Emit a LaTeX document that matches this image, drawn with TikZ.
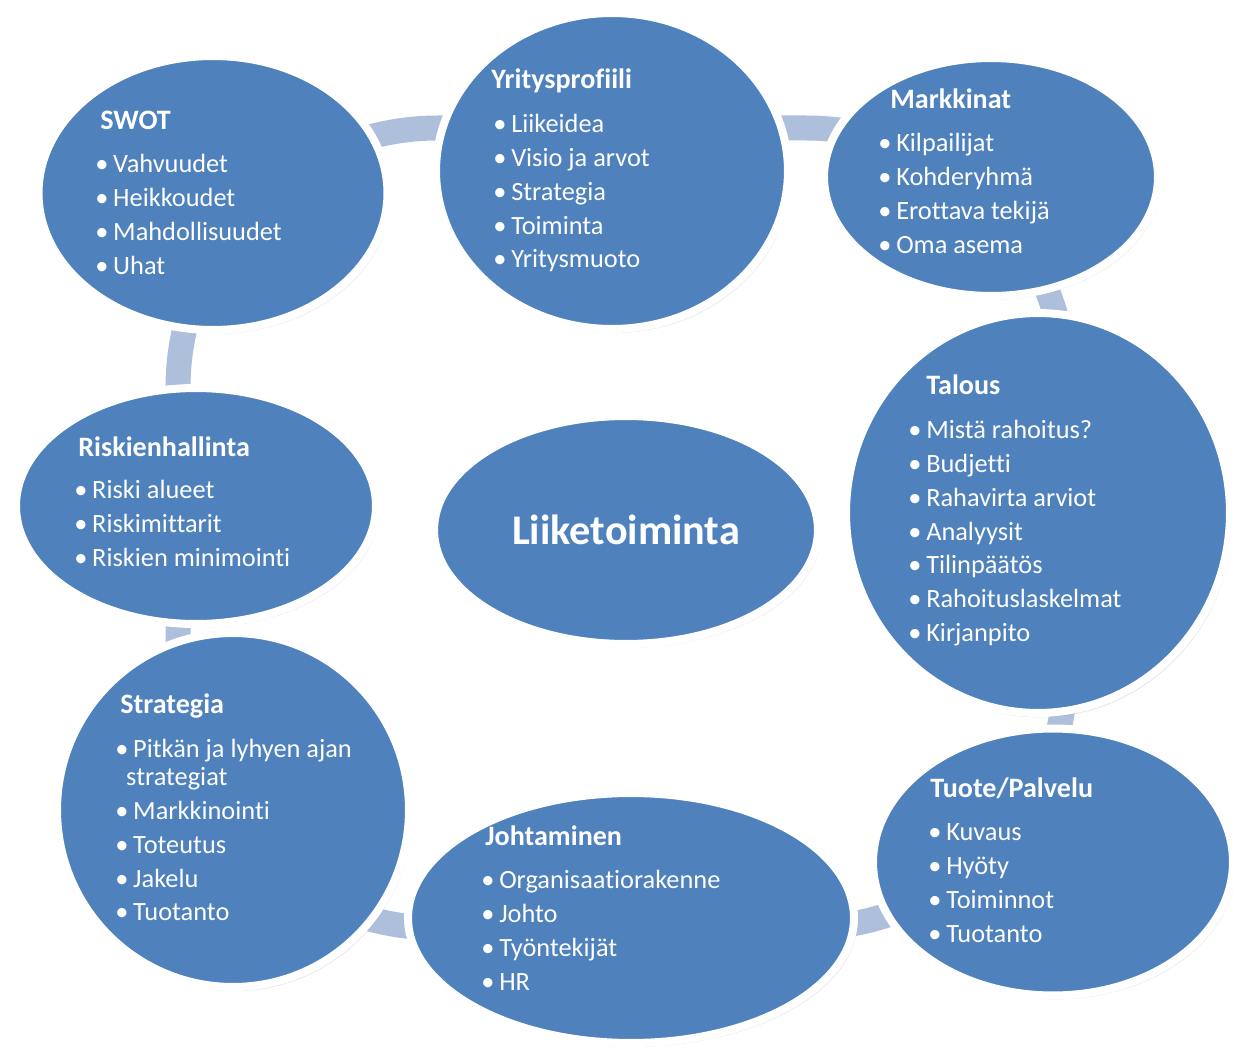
\documentclass[tikz,border=0pt]{standalone}
\usepackage{fontspec}
\setmainfont[Ligatures=NoCommon]{Carlito}
\usetikzlibrary{shapes.geometric,shadows}
\definecolor{bubbleblue}{HTML}{4F81BD}
\definecolor{ringblue}{HTML}{AEBFDC}
\newcommand{\bl}{\strut\makebox[10.2pt][l]{•}}

\begin{document}
\begin{tikzpicture}[x=0.02cm,y=-0.02cm]
    \tikzstyle{bubble}=[ellipse, draw=white, line width=0.16cm, fill=bubbleblue, inner sep=0pt, text=white, drop shadow={opacity=0.22, shadow xshift=1pt, shadow yshift=-1.6pt, shadow scale=1.008}]
    \tikzstyle{head}=[anchor=base west, inner sep=0pt, text=white, font=\fontsize{16}{19.3}\selectfont\bfseries]
    \tikzstyle{items}=[anchor=north west, yshift=13.51pt, inner sep=0pt, text=white, align=left, font=\fontsize{15}{19.3}\selectfont]
    \tikzstyle{ring}=[draw=ringblue, line width=0.5cm, rounded corners=5.2cm]

    \useasboundingbox (0,0) rectangle (1243,1050);

    \coordinate (rtl) at (178,128);
    \coordinate (rbr) at (1066,928);
    \draw[ring] (rtl) rectangle (rbr);

    \node[bubble, minimum width=6.98cm, minimum height=5.48cm] at (213,193) (sw) {};
    \node[head] at (100,130) (swh) {SWOT};
    \node[items] at (95,172) (swl) {\bl Vahvuudet\\ \bl Heikkoudet\\ \bl Mahdollisuudet\\ \bl Uhat};

    \node[bubble, minimum width=7.04cm, minimum height=6.32cm] at (612,171) (yp) {};
    \node[head] at (491,89) (yph) {Yritysprofiili};
    \node[items] at (493,132) (ypl) {\bl Liikeidea\\ \bl Visio ja arvot\\ \bl Strategia\\ \bl Toiminta\\ \bl Yritysmuoto};

    \node[bubble, minimum width=6.68cm, minimum height=4.76cm] at (991,177) (mk) {};
    \node[head] at (890,109) (mkh) {Markkinat};
    \node[items] at (878,151) (mkl) {\bl Kilpailijat\\ \bl Kohderyhmä\\ \bl Erottava tekijä\\ \bl Oma asema};

    \node[bubble, minimum width=7.68cm, minimum height=8.0cm] at (1038,513) (ta) {};
    \node[head] at (926,395) (tah) {Talous};
    \node[items] at (908,438) (tal) {\bl Mistä rahoitus?\\ \bl Budjetti\\ \bl Rahavirta arviot\\ \bl Analyysit\\ \bl Tilinpäätös\\ \bl Rahoituslaskelmat\\ \bl Kirjanpito};

    \node[bubble, minimum width=7.2cm, minimum height=4.72cm] at (196,506) (rh) {};
    \node[head] at (78,456) (rhh) {Riskienhallinta};
    \node[items] at (74,498) (rhl) {\bl Riski alueet\\ \bl Riskimittarit\\ \bl Riskien minimointi};

    \node[bubble, minimum width=7.68cm, minimum height=4.56cm, font=\fontsize{24}{28}\selectfont\bfseries] at (626,530) (lt) {Liiketoiminta};

    \node[bubble, minimum width=7.04cm, minimum height=7.08cm] at (233,810) (st) {};
    \node[head] at (120,713) (sth) {Strategia};
    \node[items] at (115,757) (stl) {\bl Pitkän ja lyhyen ajan\\[-3.4pt]\hspace*{6.2pt}strategiat\\ \bl Markkinointi\\ \bl Toteutus\\ \bl Jakelu\\ \bl Tuotanto};

    \node[bubble, minimum width=7.2cm, minimum height=5.34cm] at (1053,862) (tp) {};
    \node[head] at (930,797) (tph) {Tuote/Palvelu};
    \node[items] at (928,840) (tpl) {\bl Kuvaus\\ \bl Hyöty\\ \bl Toiminnot\\ \bl Tuotanto};

    \node[bubble, minimum width=8.92cm, minimum height=5.0cm] at (631,918) (jo) {};
    \node[head] at (485,845) (joh) {Johtaminen};
    \node[items] at (481,888) (jol) {\bl Organisaatiorakenne\\ \bl Johto\\ \bl Työntekijät\\ \bl HR};
\end{tikzpicture}
\end{document}
